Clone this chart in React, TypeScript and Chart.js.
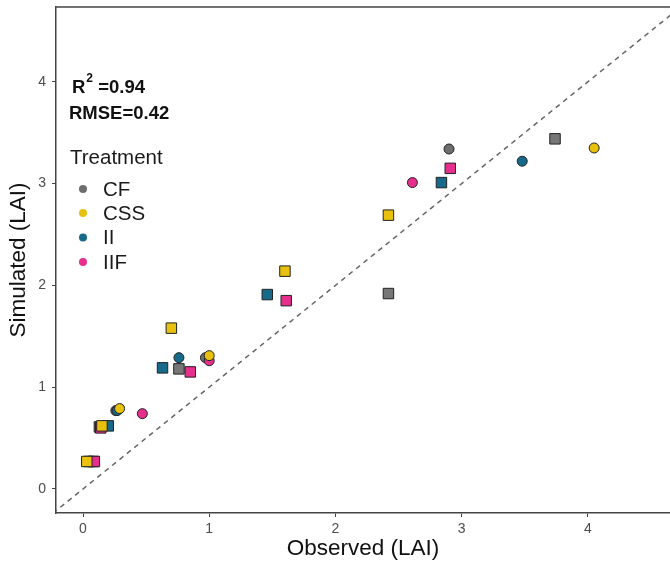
import React, { useEffect, useRef } from "react";
import { Chart, registerables } from "chart.js";

Chart.register(...registerables);

// ---- data ----
const treatments = ["CF", "CSS", "II", "IIF"];
const colors = ["#6e6e6e", "#e8c10e", "#17698a", "#e62e8c"];

// circles (observed, simulated)
const cfCircleX = [2.9, 0.97, 0.26];
const cfCircleY = [3.34, 1.29, 0.77];
const cssCircleX = [4.05, 1.0, 0.29];
const cssCircleY = [3.35, 1.31, 0.79];
const iiCircleX = [3.48, 0.76, 0.27];
const iiCircleY = [3.22, 1.29, 0.77];
const iifCircleX = [2.61, 1.0, 0.47];
const iifCircleY = [3.01, 1.26, 0.74];

// squares (observed, simulated)
const cfSquareX = [3.74, 2.42, 0.76, 0.13, 0.08];
const cfSquareY = [3.44, 1.92, 1.18, 0.61, 0.27];
const cssSquareX = [2.42, 1.6, 0.7, 0.15, 0.03];
const cssSquareY = [2.69, 2.14, 1.58, 0.62, 0.27];
const iiSquareX = [2.84, 1.46, 0.63, 0.2, 0.05];
const iiSquareY = [3.01, 1.91, 1.19, 0.62, 0.27];
const iifSquareX = [2.91, 1.61, 0.85, 0.14, 0.09];
const iifSquareY = [3.15, 1.85, 1.15, 0.6, 0.27];

const oneToOne = [-1, 6];
const tickValues = [0, 1, 2, 3, 4];
const r2Text = "0.94";
const rmseText = "0.42";
const legendTitle = "Treatment";
const xTitle = "Observed (LAI)";
const yTitle = "Simulated (LAI)";

const FONT = "'Liberation Sans', Arial, sans-serif";

const pts = (xs: number[], ys: number[]) => xs.map((x, i) => ({ x, y: ys[i] }));

const annotationPlugin = {
  id: "annot",
  afterDraw(chart: any) {
    const { ctx, chartArea } = chart;
    ctx.save();
    // top panel border
    ctx.strokeStyle = "#444";
    ctx.lineWidth = 1.5;
    ctx.beginPath();
    ctx.moveTo(chartArea.left - 0.75, chartArea.top);
    ctx.lineTo(chartArea.right, chartArea.top);
    ctx.stroke();

    // R2 and RMSE
    ctx.fillStyle = "#111";
    ctx.textBaseline = "middle";
    ctx.textAlign = "left";
    ctx.font = `bold 18.5px ${FONT}`;
    let x = 72;
    ctx.fillText("R", x, 88);
    x += ctx.measureText("R").width;
    ctx.font = `bold 12px ${FONT}`;
    ctx.fillText("2", x + 1, 79);
    x += ctx.measureText("2").width + 1;
    ctx.font = `bold 18.5px ${FONT}`;
    ctx.fillText(" =" + r2Text, x, 88);
    ctx.fillText("RMSE=" + rmseText, 69, 114);

    // legend
    ctx.font = `20.5px ${FONT}`;
    ctx.fillStyle = "#1a1a1a";
    ctx.fillText(legendTitle, 70, 158);
    const ys = [189, 213, 237.5, 262];
    treatments.forEach((t, i) => {
      ctx.fillStyle = colors[i];
      ctx.beginPath();
      ctx.arc(83, ys[i], 4, 0, Math.PI * 2);
      ctx.fill();
      ctx.fillStyle = "#1a1a1a";
      ctx.fillText(t, 103, ys[i] + 1);
    });
    ctx.restore();
  },
};

export default function App() {
  const ref = useRef<HTMLCanvasElement>(null);
  useEffect(() => {
    if (!ref.current) return;
    const mk = (label: string, xs: number[], ys: number[], color: string, square: boolean) => ({
      type: "scatter" as const,
      label,
      data: pts(xs, ys),
      backgroundColor: color,
      borderColor: "#222",
      borderWidth: 1,
      pointStyle: square ? "rect" : "circle",
      pointRadius: square ? 7.4 : 5,
      pointHoverRadius: square ? 7.4 : 5,
    });
    // Chart.js draws the first dataset on top, so the list runs from top to bottom
    const chart = new Chart(ref.current, {
      type: "scatter",
      data: {
        datasets: [
          mk("CSS", cssSquareX, cssSquareY, colors[1], true),
          mk("CSS", cssCircleX, cssCircleY, colors[1], false),
          mk("IIF", iifSquareX, iifSquareY, colors[3], true),
          mk("IIF", iifCircleX, iifCircleY, colors[3], false),
          mk("II", iiSquareX, iiSquareY, colors[2], true),
          mk("II", iiCircleX, iiCircleY, colors[2], false),
          mk("CF", cfSquareX, cfSquareY, "#777777", true),
          mk("CF", cfCircleX, cfCircleY, colors[0], false),
          {
            type: "line",
            label: "1:1",
            data: oneToOne.map((v) => ({ x: v, y: v })),
            borderColor: "#666",
            borderWidth: 1.5,
            borderDash: [5, 4.5],
            pointRadius: 0,
            fill: false,
          } as any,
        ],
      },
      options: {
        animation: false,
        responsive: false,
        layout: { autoPadding: false, padding: { top: 7, right: 0, left: 0, bottom: 0 } },
        plugins: { legend: { display: false }, tooltip: { enabled: false } },
        scales: {
          x: {
            type: "linear",
            min: -0.214,
            max: 4.651,
            afterBuildTicks: (s: any) => {
              s.ticks = tickValues.map((v) => ({ value: v }));
            },
            afterFit: (s: any) => {
              s.height = 52;
              s.paddingLeft = 0;
              s.paddingRight = 0;
            },
            grid: { display: true, drawOnChartArea: false, drawTicks: true, tickLength: 4, color: "#444", lineWidth: 1 },
            border: { display: true, color: "#444", width: 1.5 },
            ticks: { font: { family: FONT, size: 14 }, color: "#4d4d4d", padding: 4, maxRotation: 0 },
            title: { display: true, text: xTitle, font: { family: FONT, size: 22.5 }, color: "#111", padding: 3 },
          },
          y: {
            type: "linear",
            min: -0.236,
            max: 4.735,
            afterBuildTicks: (s: any) => {
              s.ticks = tickValues.map((v) => ({ value: v }));
            },
            afterFit: (s: any) => {
              s.width = 56;
              s.paddingTop = 0;
              s.paddingBottom = 0;
            },
            grid: { display: true, drawOnChartArea: false, drawTicks: true, tickLength: 4, color: "#444", lineWidth: 1 },
            border: { display: true, color: "#444", width: 1.5 },
            ticks: { font: { family: FONT, size: 14 }, color: "#4d4d4d", padding: 6 },
            title: { display: true, text: yTitle, font: { family: FONT, size: 22.5 }, color: "#111", padding: 5 },
          },
        },
      },
      plugins: [annotationPlugin],
    } as any);
    return () => chart.destroy();
  }, []);
  return (
    <div style={{ position: "absolute", left: 0, top: 0, width: 670, height: 565, background: "#fff" }}>
      <canvas ref={ref} width={670} height={565} style={{ display: "block" }} />
    </div>
  );
}
